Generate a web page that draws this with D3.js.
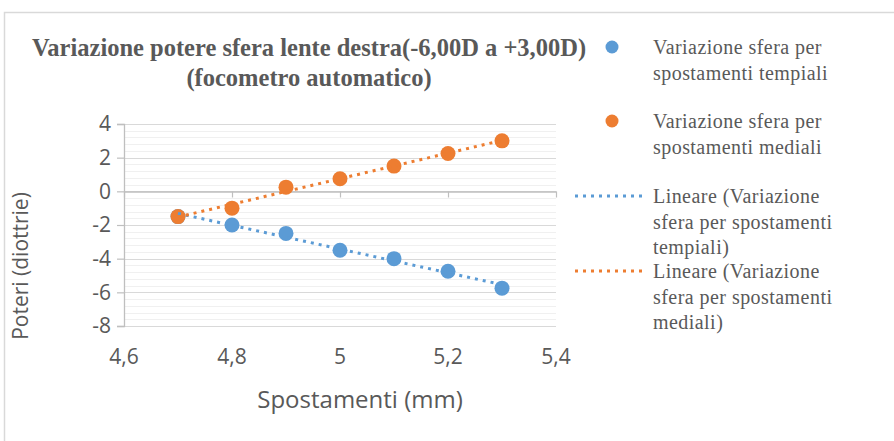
<!DOCTYPE html>
<html>
<head>
<meta charset="utf-8">
<script src="https://cdnjs.cloudflare.com/ajax/libs/d3/7.8.5/d3.min.js"></script>
<style>
  body { margin: 0; background: #fff; }
  svg { display: block; }
</style>
</head>
<body>
<svg></svg>
<script>
// data
const spostamenti = [4.7, 4.8, 4.9, 5.0, 5.1, 5.2, 5.3];
const tempiali = [-1.5, -2, -2.5, -3.5, -4, -4.75, -5.75];
const mediali = [-1.5, -1, 0.25, 0.75, 1.5, 2.25, 3];
const xTicks = [4.6, 4.8, 5.0, 5.2, 5.4];
const yTicks = [4, 2, 0, -2, -4, -6, -8];
const titleLines = ["Variazione potere sfera lente destra(-6,00D a +3,00D)", "(focometro automatico)"];
const legendLabels = [
  ["Variazione sfera per", "spostamenti tempiali"],
  ["Variazione sfera per", "spostamenti mediali"],
  ["Lineare (Variazione", "sfera per spostamenti", "tempiali)"],
  ["Lineare (Variazione", "sfera per spostamenti", "mediali)"]
];

const blue = "#5b9bd5", orange = "#ed7d31", textCol = "#595959";
const W = 894, H = 441;
const margin = {top: 124, left: 124, right: 338, bottom: 115};

const svg = d3.select("svg").attr("width", W).attr("height", H);

// outer chart border
svg.append("rect")
  .attr("x", 4.5).attr("y", 12.5)
  .attr("width", W + 20).attr("height", H + 20)
  .attr("fill", "none").attr("stroke", "#d9d9d9").attr("stroke-width", 1.5);

const x = d3.scaleLinear().domain([4.6, 5.4]).range([margin.left, W - margin.right]);
const y = d3.scaleLinear().domain([-8, 4]).range([H - margin.bottom, margin.top]);

const fmtComma = d => String(d).replace(".", ",");

// minor gridlines every 0.4
const minor = d3.range(-8, 4.001, 0.4).filter(v => Math.abs(v / 2 - Math.round(v / 2)) > 0.01);
svg.append("g").selectAll("line").data(minor).enter().append("line")
  .attr("x1", x(4.6)).attr("x2", x(5.4))
  .attr("y1", d => Math.round(y(d)) + 0.5).attr("y2", d => Math.round(y(d)) + 0.5)
  .attr("stroke", "#f0f0f0").attr("stroke-width", 1);

// major gridlines
svg.append("g").selectAll("line").data(yTicks).enter().append("line")
  .attr("x1", x(4.6)).attr("x2", x(5.4))
  .attr("y1", d => Math.round(y(d)) + 0.5).attr("y2", d => Math.round(y(d)) + 0.5)
  .attr("stroke", "#d9d9d9").attr("stroke-width", 1.2);

// y axis
const yAxis = svg.append("g")
  .attr("transform", `translate(${x(4.6)},0)`)
  .call(d3.axisLeft(y).tickValues(yTicks).tickSize(7).tickPadding(6).tickFormat(d => String(d)));
yAxis.select(".domain").attr("stroke", "#bfbfbf").attr("stroke-width", 1.3);
yAxis.selectAll(".tick line").attr("stroke", "#bfbfbf").attr("stroke-width", 1.2);
yAxis.selectAll("text")
  .attr("fill", textCol).style("font-family", "'Open Sans'").style("font-size", "21px");

// x axis line at y = 0, ticks downward
const xAxis = svg.append("g")
  .attr("transform", `translate(0,${Math.round(y(0)) + 0.5})`)
  .call(d3.axisBottom(x).tickValues(xTicks).tickSize(6).tickSizeOuter(0).tickFormat(() => ""));
xAxis.select(".domain").attr("stroke", "#bfbfbf").attr("stroke-width", 1.3);
xAxis.selectAll(".tick line").attr("stroke", "#bfbfbf").attr("stroke-width", 1.2);

// x tick labels at the bottom
svg.append("g").selectAll("text").data(xTicks).enter().append("text")
  .attr("x", d => x(d)).attr("y", y(-8) + 38)
  .attr("text-anchor", "middle")
  .attr("fill", textCol).style("font-family", "'Open Sans'").style("font-size", "21px")
  .text(fmtComma);

// axis titles
svg.append("text")
  .attr("x", 360).attr("y", 408)
  .attr("text-anchor", "middle")
  .attr("fill", textCol).style("font-family", "'Open Sans'").style("font-size", "24px")
  .text("Spostamenti (mm)");

svg.append("text")
  .attr("transform", "translate(28,266) rotate(-90)")
  .attr("text-anchor", "middle")
  .attr("fill", textCol).style("font-family", "'Open Sans'").style("font-size", "21px")
  .text("Poteri (diottrie)");

// title
svg.append("g").selectAll("text").data(titleLines).enter().append("text")
  .attr("x", 309).attr("y", (d, i) => 56 + i * 30)
  .attr("text-anchor", "middle")
  .attr("fill", textCol)
  .style("font-family", "'Liberation Serif'").style("font-size", "24.5px").style("font-weight", "bold")
  .text(d => d);

// linear trend (least squares) over the data range
function trend(xs, ys) {
  const mx = d3.mean(xs), my = d3.mean(ys);
  const b = d3.sum(xs, (v, i) => (v - mx) * (ys[i] - my)) / d3.sum(xs, v => (v - mx) * (v - mx));
  const a = my - b * mx;
  return d3.extent(xs).map(v => [v, a + b * v]);
}

const series = [
  {vals: tempiali, color: blue},
  {vals: mediali, color: orange}
];

const line = d3.line().x(d => x(d[0])).y(d => y(d[1]));

series.forEach(s => {
  svg.append("g").selectAll("circle")
    .data(spostamenti.map((v, i) => [v, s.vals[i]]))
    .enter().append("circle")
    .attr("cx", d => x(d[0])).attr("cy", d => y(d[1]))
    .attr("r", 7.5).attr("fill", s.color);
});

series.forEach(s => {
  svg.append("path")
    .attr("d", line(trend(spostamenti, s.vals)))
    .attr("fill", "none").attr("stroke", s.color)
    .attr("stroke-width", 3).attr("stroke-dasharray", "3 5");
});

// legend
const legendY = [47, 121, 196, 271];
const legend = svg.append("g");
legendLabels.forEach((lines, i) => {
  const ly = legendY[i];
  if (i < 2) {
    legend.append("circle").attr("cx", 612).attr("cy", ly).attr("r", 6.5).attr("fill", series[i].color);
  } else {
    legend.append("line").attr("x1", 575).attr("x2", 642).attr("y1", ly).attr("y2", ly)
      .attr("stroke", series[i - 2].color).attr("stroke-width", 3).attr("stroke-dasharray", "3 5");
  }
  legend.append("g").selectAll("text").data(lines).enter().append("text")
    .attr("x", 653).attr("y", (d, j) => ly + 7 + j * 25.5)
    .attr("fill", textCol)
    .style("font-family", "'Liberation Serif'").style("font-size", "20px")
    .style("letter-spacing", "0.45px")
    .text(d => d);
});
</script>
</body>
</html>
